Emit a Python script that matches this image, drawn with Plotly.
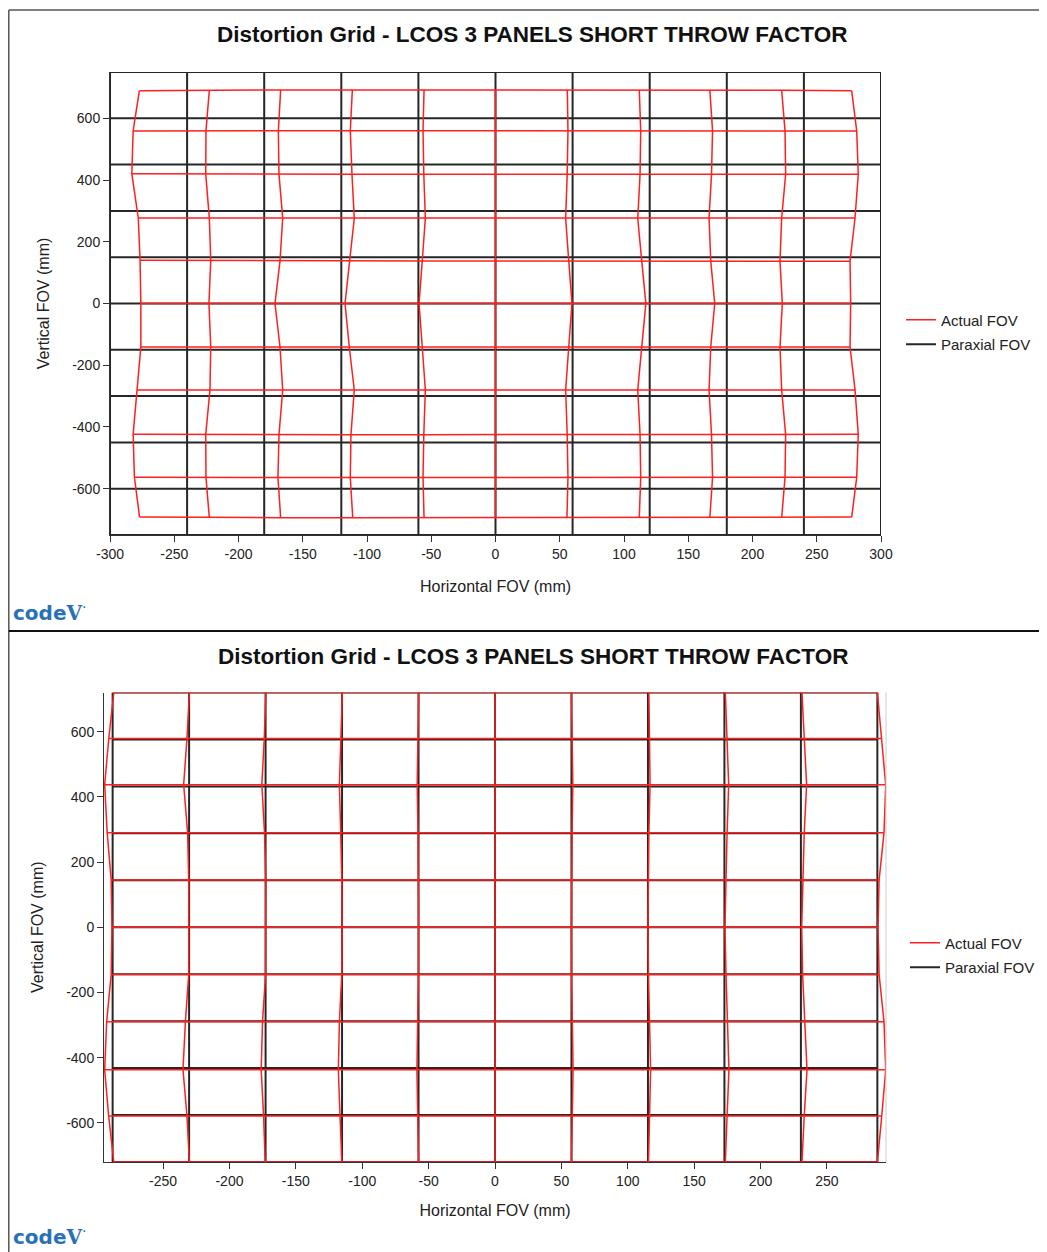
import plotly.graph_objects as go

# ---------------- DATA ----------------
title_text = "Distortion Grid - LCOS 3 PANELS SHORT THROW FACTOR"
x_title = "Horizontal FOV (mm)"
y_title = "Vertical FOV (mm)"
series_names = ["Actual FOV", "Paraxial FOV"]

# Top chart: paraxial grid lines
top_parax_x = [-300, -240, -180, -120, -60, 0, 60, 120, 180, 240, 300]
top_parax_y = [750, 600, 450, 300, 150, 0, -150, -300, -450, -600, -750]

# Top chart: actual (distorted) grid points, rows top -> bottom, columns left -> right
top_act_x = [
    [-277.2, -222.7, -167.2, -111.4, -55.6, 0.0, 55.9, 111.9, 166.8, 222.7, 277.2],
    [-282.0, -225.3, -169.0, -113.0, -56.4, 0.0, 56.4, 113.0, 168.9, 225.3, 281.1],
    [-283.0, -225.5, -168.5, -111.7, -55.8, 0.0, 55.8, 112.5, 168.1, 225.8, 282.3],
    [-278.0, -222.7, -165.6, -109.9, -54.6, 0.0, 54.6, 110.7, 166.2, 222.7, 279.8],
    [-276.6, -221.6, -167.7, -113.5, -57.0, 0.0, 57.0, 113.8, 167.5, 221.4, 275.9],
    [-276.0, -223.0, -171.6, -117.1, -59.5, 0.0, 59.5, 117.0, 170.6, 223.2, 276.4],
    [-276.0, -221.6, -167.7, -113.8, -57.0, 0.0, 57.0, 113.8, 167.5, 221.4, 275.9],
    [-279.0, -222.2, -165.6, -109.9, -54.6, 0.0, 54.6, 110.7, 166.2, 222.7, 279.8],
    [-282.0, -225.5, -168.5, -112.5, -55.8, 0.0, 55.8, 112.5, 168.1, 225.8, 282.3],
    [-281.0, -225.3, -169.3, -113.0, -56.4, 0.0, 56.4, 113.0, 168.9, 225.3, 281.1],
    [-277.0, -222.7, -167.2, -111.1, -55.6, 0.0, 55.6, 111.9, 166.8, 222.7, 277.2],
]
top_act_y = [
    [689, 691, 692, 692, 692, 692, 692, 692, 692, 691, 689],
    [559, 560, 560, 560, 560, 560, 560, 560, 560, 560, 559],
    [420, 419, 419, 419, 419, 419, 419, 419, 419, 419, 419],
    [277, 277, 276, 276, 276, 276, 276, 276, 276, 277, 277],
    [140, 139, 138, 138, 138, 138, 138, 138, 138, 137, 137],
    [0, 0, 0, 0, 0, 0, 0, 0, 0, 0, 0],
    [-141, -141, -141, -141, -141, -141, -141, -141, -141, -141, -141],
    [-280, -280, -280, -280, -280, -280, -280, -280, -280, -280, -280],
    [-424, -425, -425, -425, -425, -425, -425, -425, -425, -425, -424],
    [-563, -564, -564, -564, -564, -564, -564, -564, -564, -564, -563],
    [-692, -694, -694, -694, -694, -694, -694, -694, -694, -694, -692],
]

# Bottom chart: paraxial grid lines
bot_parax_x = [-288, -230.4, -172.8, -115.2, -57.6, 0, 57.6, 115.2, 172.8, 230.4, 288]
bot_parax_y = [720, 576, 432, 288, 144, 0, -144, -288, -432, -576, -720]

# Bottom chart: actual grid points, rows top -> bottom, columns left -> right
bot_act_x = [
    [-287.1, -230.2, -172.6, -115.0, -57.5, 0.0, 57.6, 115.9, 173.5, 231.2, 288.0],
    [-290.9, -232.0, -173.8, -116.2, -58.0, 0.0, 58.1, 116.4, 174.8, 232.9, 291.3],
    [-294.0, -234.5, -175.6, -117.2, -58.6, 0.0, 58.6, 116.8, 176.0, 234.7, 294.3],
    [-292.1, -231.5, -173.6, -116.2, -58.0, 0.0, 58.1, 115.9, 174.8, 232.9, 293.0],
    [-289.1, -230.7, -172.6, -115.4, -57.7, 0.0, 57.7, 115.6, 174.0, 231.7, 289.3],
    [-288.5, -230.8, -172.8, -115.2, -57.6, 0.0, 57.6, 115.2, 173.2, 231.0, 288.5],
    [-289.1, -230.7, -172.8, -115.4, -57.7, 0.0, 57.7, 115.6, 174.0, 231.7, 289.3],
    [-292.5, -233.2, -175.1, -117.2, -58.2, 0.0, 58.2, 116.2, 175.0, 233.2, 293.0],
    [-294.0, -235.0, -176.1, -118.0, -58.8, 0.0, 58.8, 117.2, 176.2, 235.0, 294.3],
    [-291.0, -232.0, -174.3, -116.7, -58.2, 0.0, 58.2, 116.4, 174.8, 232.9, 291.3],
    [-287.1, -230.2, -173.1, -115.4, -57.6, 0.0, 57.6, 115.6, 173.5, 231.2, 288.0],
]
bot_act_y_rows = [720, 579, 437, 290, 145, 0, -145, -290, -437, -579, -720]

top_xtick_vals = [-300, -250, -200, -150, -100, -50, 0, 50, 100, 150, 200, 250, 300]
top_xtick_text = ["-300", "-250", "-200", "-150", "-100", "-50", "0", "50", "100", "150", "200", "250", "300"]
bot_xtick_vals = [-250, -200, -150, -100, -50, 0, 50, 100, 150, 200, 250]
bot_xtick_text = ["-250", "-200", "-150", "-100", "-50", "0", "50", "100", "150", "200", "250"]
ytick_vals = [-600, -400, -200, 0, 200, 400, 600]
ytick_text = ["-600", "-400", "-200", "0", "200", "400", "600"]

# ---------------- LAYOUT HELPERS ----------------
OFF = 8                      # page body margin offset
W, H = 1047 - OFF, 1252 - OFF
FONT = "Liberation Sans, Arial, sans-serif"
RED = "#ff1f1f"
BLACK = "#262626"


def px(x):
    return (x - OFF) / W


def py(y):
    return 1 - (y - OFF) / H


def grid_lines_from_axes(xs, ys):
    gx, gy = [], []
    for yv in ys:
        gx += [xs[0], xs[-1], None]
        gy += [yv, yv, None]
    for xv in xs:
        gx += [xv, xv, None]
        gy += [ys[0], ys[-1], None]
    return gx, gy


def grid_lines_from_points(X, Y):
    gx, gy = [], []
    nr, nc = len(X), len(X[0])
    for r in range(nr):
        gx += list(X[r]) + [None]
        gy += list(Y[r]) + [None]
    for c in range(nc):
        gx += [X[r][c] for r in range(nr)] + [None]
        gy += [Y[r][c] for r in range(nr)] + [None]
    return gx, gy


bot_act_y = [[yv] * len(bot_act_x[0]) for yv in bot_act_y_rows]

fig = go.Figure()

# Top chart traces
px_x, px_y = grid_lines_from_axes(top_parax_x, top_parax_y)
fig.add_trace(go.Scatter(x=px_x, y=px_y, mode="lines", name=series_names[1],
                         line=dict(color=BLACK, width=2), xaxis="x", yaxis="y",
                         legend="legend", legendrank=2, legendgroup="p1"))
ax_x, ax_y = grid_lines_from_points(top_act_x, top_act_y)
fig.add_trace(go.Scatter(x=ax_x, y=ax_y, mode="lines", name=series_names[0],
                         line=dict(color=RED, width=1.5), xaxis="x", yaxis="y",
                         legend="legend", legendrank=1, legendgroup="a1"))

# Bottom chart traces
bx, by = grid_lines_from_axes(bot_parax_x, bot_parax_y)
fig.add_trace(go.Scatter(x=bx, y=by, mode="lines", name=series_names[1],
                         line=dict(color=BLACK, width=2), xaxis="x2", yaxis="y2",
                         legend="legend2", legendrank=2, legendgroup="p2"))
bax, bay = grid_lines_from_points(bot_act_x, bot_act_y)
fig.add_trace(go.Scatter(x=bax, y=bay, mode="lines", name=series_names[0],
                         line=dict(color=RED, width=1.5), xaxis="x2", yaxis="y2",
                         legend="legend2", legendrank=1, legendgroup="a2"))

axis_common = dict(showgrid=False, zeroline=False, showline=True, linecolor="#333",
                   linewidth=1, ticks="outside", ticklen=6, tickcolor="#333",
                   automargin=False,
                   tickfont=dict(family=FONT, size=14, color="#222"),
                   title_font=dict(family=FONT, size=16, color="#222"))

legend_common = dict(xanchor="left", yanchor="middle",
                     font=dict(family=FONT, size=15, color="#222"),
                     bgcolor="rgba(0,0,0,0)", tracegroupgap=2, traceorder="grouped")

fig.update_layout(
    width=W, height=H, autosize=False,
    margin=dict(l=0, r=0, t=0, b=0, pad=0),
    paper_bgcolor="white", plot_bgcolor="white",
    font=dict(family=FONT, color="#222"),
    xaxis=dict(domain=[px(110), px(881)], range=[-300, 300], anchor="y",
               tickvals=top_xtick_vals, ticktext=top_xtick_text,
               title=dict(text=x_title, standoff=20), **axis_common),
    yaxis=dict(domain=[py(535), py(72)], range=[-750, 750], anchor="x",
               tickvals=ytick_vals, ticktext=ytick_text,
               title=dict(text=y_title, standoff=18), **axis_common),
    xaxis2=dict(domain=[px(104), px(886)], range=[-294.5, 294.5], anchor="y2",
                tickvals=bot_xtick_vals, ticktext=bot_xtick_text,
                title=dict(text=x_title, standoff=17), **axis_common),
    yaxis2=dict(domain=[py(1162), py(692.5)], range=[-720, 720], anchor="x2",
                tickvals=ytick_vals, ticktext=ytick_text,
                title=dict(text=y_title, standoff=18), **axis_common),
    legend=dict(x=px(901), y=py(332), **legend_common),
    legend2=dict(x=px(905), y=py(955), **legend_common),
)

# Titles
for yc, xc in [(34, 531.5), (657, 533)]:
    fig.add_annotation(text="<b>" + title_text + "</b>", xref="paper", yref="paper",
                       x=px(xc), y=py(yc), xanchor="center", yanchor="middle",
                       showarrow=False, font=dict(family=FONT, size=22.5, color="#111"))

# code V logos
for yc in [612, 1236]:
    fig.add_annotation(
        text="<b>code</b><span style='font-family:DejaVu Serif'><b>V</b></span><sup>·</sup>",
        xref="paper", yref="paper", x=px(11), y=py(yc), xanchor="left", yanchor="middle",
        showarrow=False, font=dict(family="DejaVu Sans, sans-serif", size=20, color="#2a70b8"))

# Frame / separators
fig.add_shape(type="line", xref="paper", yref="paper", x0=px(8.8), x1=1, y0=py(10), y1=py(10),
              line=dict(color="#555", width=1.5))
fig.add_shape(type="line", xref="paper", yref="paper", x0=px(8.8), x1=px(8.8), y0=py(10), y1=0,
              line=dict(color="#555", width=1.5))
fig.add_shape(type="line", xref="paper", yref="paper", x0=px(8.8), x1=1, y0=py(631), y1=py(631),
              line=dict(color="#111", width=2))
# light outline on bottom plot's right edge
fig.add_shape(type="line", xref="paper", yref="paper", x0=px(886), x1=px(886),
              y0=py(1162), y1=py(692.5), line=dict(color="#cccccc", width=1))

fig.write_html("out.html")
